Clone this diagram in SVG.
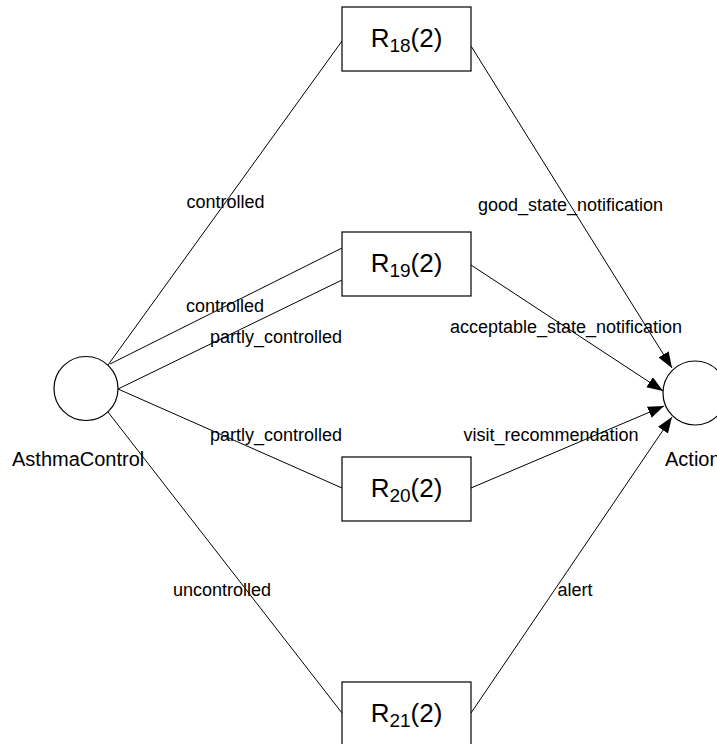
<svg xmlns="http://www.w3.org/2000/svg" width="717" height="744" viewBox="0 0 717 744">
  <style>
    .node { fill: #ffffff; stroke: #000000; stroke-width: 1.2; }
    .edge { fill: none; stroke: #000000; stroke-width: 1; }
    .arrow { fill: none; stroke: #000000; stroke-width: 1; marker-end: url(#head); }
    .elabel { font-family: "Liberation Sans", Arial, sans-serif; font-size: 18px; fill: #000000; text-anchor: middle; }
    .nlabel { font-family: "Liberation Sans", Arial, sans-serif; font-size: 20px; fill: #000000; }
    .rlabel { font-family: "Liberation Sans", Arial, sans-serif; font-size: 26px; fill: #000000; text-anchor: middle; }
    .sub { font-size: 19px; }
  </style>
  <defs>
    <marker id="head" markerUnits="userSpaceOnUse" markerWidth="17" markerHeight="13" refX="16" refY="6" orient="auto">
      <path d="M0,0 L16,6 L0,12 z" fill="#000000"/>
    </marker>
  </defs>
  <rect width="717" height="744" fill="#ffffff"/>

  <!-- connectors -->
  <g id="connectors">
    <line class="edge" x1="108" y1="365" x2="342" y2="41"/>
    <line class="edge" x1="110" y1="364" x2="342" y2="248"/>
    <line class="edge" x1="118" y1="389" x2="342" y2="280"/>
    <line class="edge" x1="118" y1="389" x2="342" y2="488"/>
    <line class="edge" x1="108" y1="412" x2="342" y2="713"/>

    <line class="arrow" x1="471" y1="46" x2="672" y2="368"/>
    <line class="arrow" x1="471" y1="265" x2="663" y2="391"/>
    <line class="arrow" x1="471" y1="488" x2="664" y2="406"/>
    <line class="arrow" x1="471" y1="713" x2="672" y2="417"/>

    <text class="elabel" x="225.5" y="208">controlled</text>
    <text class="elabel" x="225" y="312">controlled</text>
    <text class="elabel" x="276" y="343">partly_controlled</text>
    <text class="elabel" x="276" y="441">partly_controlled</text>
    <text class="elabel" x="222" y="596">uncontrolled</text>

    <text class="elabel" x="570.5" y="211">good_state_notification</text>
    <text class="elabel" x="566" y="333">acceptable_state_notification</text>
    <text class="elabel" x="551" y="441">visit_recommendation</text>
    <text class="elabel" x="575" y="596">alert</text>
  </g>

  <!-- chance node -->
  <g id="AsthmaControl">
    <circle class="node" cx="86" cy="388.5" r="32"/>
    <text class="nlabel" x="12" y="466">AsthmaControl</text>
  </g>

  <!-- decision/utility node -->
  <g id="Action">
    <circle class="node" cx="695" cy="393" r="32"/>
    <text class="nlabel" x="665" y="466">Action</text>
  </g>

  <!-- rule nodes -->
  <g id="R18">
    <rect class="node" x="342" y="7" width="129" height="64"/>
    <text class="rlabel" x="406.5" y="47">R<tspan class="sub" dy="5">18</tspan><tspan dy="-5">(2)</tspan></text>
  </g>
  <g id="R19">
    <rect class="node" x="342" y="232" width="129" height="64"/>
    <text class="rlabel" x="406.5" y="272">R<tspan class="sub" dy="5">19</tspan><tspan dy="-5">(2)</tspan></text>
  </g>
  <g id="R20">
    <rect class="node" x="342" y="457" width="129" height="64"/>
    <text class="rlabel" x="406.5" y="497">R<tspan class="sub" dy="5">20</tspan><tspan dy="-5">(2)</tspan></text>
  </g>
  <g id="R21">
    <rect class="node" x="342" y="682" width="129" height="64"/>
    <text class="rlabel" x="406.5" y="722">R<tspan class="sub" dy="5">21</tspan><tspan dy="-5">(2)</tspan></text>
  </g>
</svg>
